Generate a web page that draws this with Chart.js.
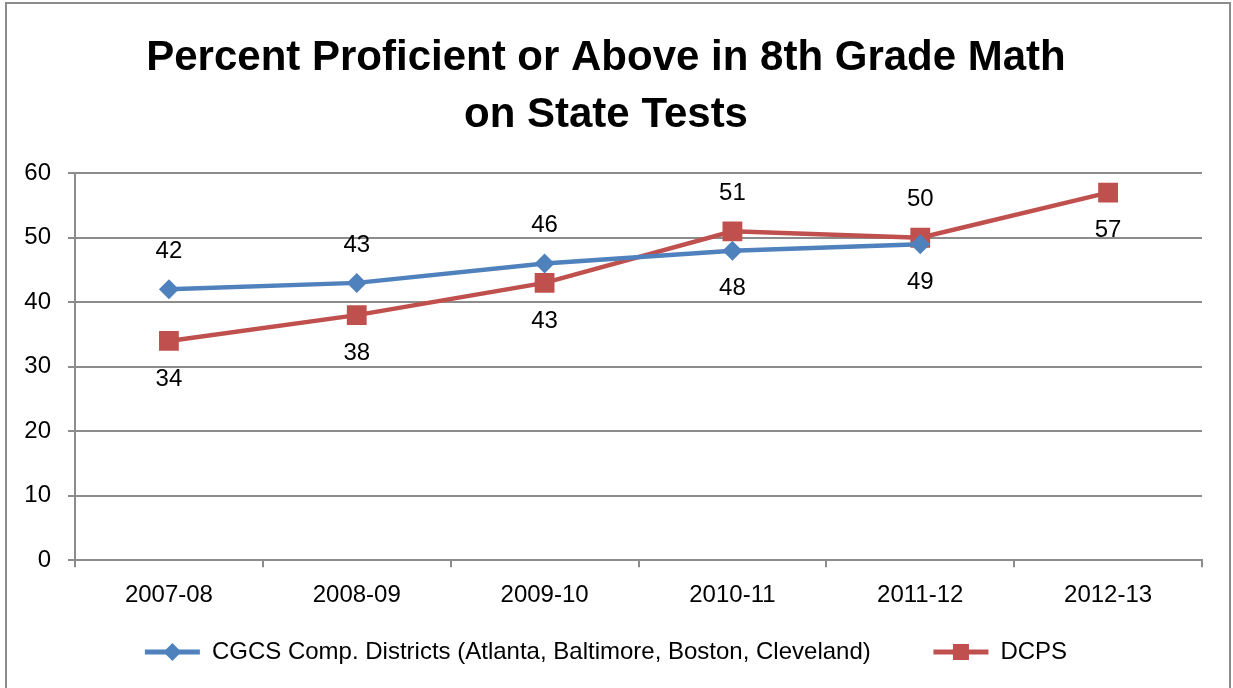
<!DOCTYPE html>
<html>
<head>
<meta charset="utf-8">
<script src="https://cdn.jsdelivr.net/npm/chart.js@4/dist/chart.umd.min.js"></script>
<style>
  html, body { margin: 0; padding: 0; background: #fff; }
  #wrap { width: 1233px; height: 688px; }
</style>
</head>
<body>
<div id="wrap"><canvas id="myChart" width="1233" height="688"></canvas></div>
<script>
// data
var years = ["2007-08", "2008-09", "2009-10", "2010-11", "2011-12", "2012-13"];
var cgcs = [42, 43, 46, 48, 49, null];
var dcps = [34, 38, 43, 51, 50, 57];
// where the value label sits: -1 above the point, 1 below
var cgcsLabelSide = [-1, -1, -1, 1, 1, 0];
var dcpsLabelSide = [1, 1, 1, -1, -1, 1];
var yTicks = [0, 10, 20, 30, 40, 50, 60];

var fontName = "'Liberation Sans', Arial, sans-serif";
var blue = "#4F81BD";
var red = "#C0504D";
var gridGray = "#8c8c8c";

var valueLabels = {
    id: "valueLabels",
    afterDatasetsDraw: function (chart) {
        var ctx = chart.ctx;
        var sides = [cgcsLabelSide, dcpsLabelSide];
        ctx.save();
        ctx.font = "24px " + fontName;
        ctx.fillStyle = "#000";
        ctx.textAlign = "center";
        ctx.textBaseline = "middle";
        chart.data.datasets.forEach(function (ds, i) {
            var meta = chart.getDatasetMeta(i);
            meta.data.forEach(function (pt, j) {
                if (ds.data[j] == null) return;
                ctx.fillText(String(ds.data[j]), pt.x, pt.y + sides[i][j] * 38);
            });
        });
        ctx.restore();
    }
};

var legendMarkers = {
    id: "legendMarkers",
    afterDraw: function (chart) {
        var ctx = chart.ctx;
        var boxes = chart.legend.legendHitBoxes;
        ctx.save();
        boxes.forEach(function (b, i) {
            var cx = b.left + 55 / 2;
            var cy = b.top + b.height / 2;
            if (i == 0) {
                ctx.fillStyle = blue;
                ctx.beginPath();
                ctx.moveTo(cx, cy - 9);
                ctx.lineTo(cx + 9, cy);
                ctx.lineTo(cx, cy + 9);
                ctx.lineTo(cx - 9, cy);
                ctx.closePath();
                ctx.fill();
            } else {
                ctx.fillStyle = red;
                ctx.fillRect(cx - 8, cy - 8, 16, 16);
            }
        });
        ctx.restore();
    }
};

var frame = {
    id: "frame",
    afterDraw: function (chart) {
        var ctx = chart.ctx;
        ctx.save();
        ctx.strokeStyle = gridGray;
        ctx.lineWidth = 2;
        ctx.beginPath();
        ctx.moveTo(6, 700);
        ctx.lineTo(6, 3);
        ctx.lineTo(1230, 3);
        ctx.lineTo(1230, 700);
        ctx.stroke();
        ctx.restore();
    }
};

var ctx = document.getElementById("myChart").getContext("2d");
var myChart = new Chart(ctx, {
    type: "line",
    data: {
        labels: years,
        datasets: [
            {
                label: "CGCS Comp. Districts (Atlanta, Baltimore, Boston, Cleveland)",
                data: cgcs,
                borderColor: blue,
                backgroundColor: blue,
                borderWidth: 4.5,
                pointStyle: "rectRot",
                pointRadius: 10,
                pointBorderWidth: 0,
                tension: 0,
            },
            {
                label: "DCPS",
                data: dcps,
                borderColor: red,
                backgroundColor: red,
                borderWidth: 4.5,
                pointStyle: "rect",
                pointRadius: 14,
                pointBorderWidth: 0,
                tension: 0,
            },
        ],
    },
    options: {
        responsive: false,
        animation: false,
        layout: { padding: { left: 10, right: 31, top: 0, bottom: 14 } },
        plugins: {
            title: {
                display: true,
                text: ["Percent Proficient or Above in 8th Grade Math", "on State Tests"],
                color: "#000",
                font: { family: fontName, size: 42, weight: "bold", lineHeight: 1.36 },
                padding: { top: 30, bottom: 29 },
            },
            legend: {
                position: "bottom",
                labels: {
                    color: "#000",
                    font: { family: fontName, size: 24 },
                    boxWidth: 55,
                    boxHeight: 5,
                    padding: 16,
                    generateLabels: function (chart) {
                        return chart.data.datasets.map(function (ds, i) {
                            // trailing spaces widen the gap between the two entries
                            return {
                                text: i == 0 ? ds.label + "       " : ds.label,
                                fillStyle: ds.borderColor,
                                strokeStyle: ds.borderColor,
                                lineWidth: 0,
                                datasetIndex: i,
                            };
                        });
                    },
                },
            },
            tooltip: { enabled: false },
        },
        scales: {
            y: {
                min: 0,
                max: 60,
                afterBuildTicks: function (scale) {
                    scale.ticks = yTicks.map(function (v) { return { value: v }; });
                },
                afterFit: function (scale) { scale.width = 65; },
                ticks: { color: "#000", font: { family: fontName, size: 24 }, padding: 17 },
                grid: { color: gridGray, lineWidth: 2, tickLength: 7 },
                border: { color: gridGray, width: 2 },
            },
            x: {
                offset: true,
                ticks: { color: "#000", font: { family: fontName, size: 24 }, padding: 14 },
                grid: { drawOnChartArea: false, color: gridGray, lineWidth: 2, tickLength: 7, offset: true },
                border: { color: gridGray, width: 2 },
            },
        },
    },
    plugins: [valueLabels, legendMarkers, frame],
});
</script>
</body>
</html>
